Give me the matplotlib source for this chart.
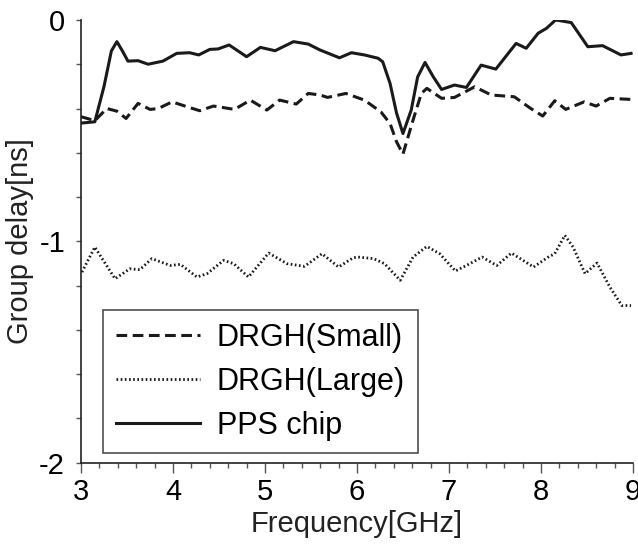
import numpy as np
import matplotlib.pyplot as plt
from matplotlib.ticker import MultipleLocator

plt.rcParams['font.family'] = ['Liberation Sans', 'DejaVu Sans']

# PPS chip (solid)
pps_f = [3.00, 3.15, 3.25, 3.33, 3.39, 3.45, 3.51, 3.62, 3.73, 3.89, 4.04, 4.18, 4.28,
         4.40, 4.49, 4.61, 4.80, 4.95, 5.11, 5.31, 5.47, 5.60, 5.81, 5.94, 6.08, 6.23,
         6.28, 6.36, 6.43, 6.50, 6.59, 6.66, 6.74, 6.83, 6.92, 7.06, 7.19, 7.35, 7.51,
         7.73, 7.84, 7.97, 8.06, 8.16, 8.33, 8.51, 8.67, 8.87, 8.98]
pps_d = [-0.466, -0.46, -0.30, -0.14, -0.098, -0.14, -0.186, -0.184, -0.20, -0.186, -0.151,
         -0.148, -0.158, -0.133, -0.131, -0.113, -0.166, -0.124, -0.139, -0.098, -0.109,
         -0.136, -0.171, -0.148, -0.158, -0.173, -0.189, -0.287, -0.42, -0.513, -0.407,
         -0.257, -0.192, -0.257, -0.314, -0.294, -0.305, -0.204, -0.222, -0.106, -0.128,
         -0.060, -0.038, 0.0, -0.012, -0.121, -0.116, -0.158, -0.151]

# DRGH(Small) (dashed)
small_f = [3.00, 3.15, 3.28, 3.39, 3.49, 3.62, 3.75, 3.84, 3.99, 4.13, 4.29, 4.44, 4.67,
           4.84, 5.02, 5.16, 5.34, 5.47, 5.60, 5.68, 5.88, 6.08, 6.26, 6.36, 6.43, 6.50,
           6.61, 6.70, 6.76, 6.92, 7.06, 7.28, 7.46, 7.71, 7.89, 8.02, 8.15, 8.27, 8.47,
           8.60, 8.75, 8.98]
small_d = [-0.437, -0.455, -0.40, -0.412, -0.445, -0.377, -0.404, -0.40, -0.37, -0.389,
           -0.41, -0.389, -0.404, -0.362, -0.407, -0.362, -0.38, -0.332, -0.339, -0.35,
           -0.332, -0.362, -0.415, -0.468, -0.55, -0.606, -0.452, -0.332, -0.309, -0.354,
           -0.35, -0.302, -0.339, -0.347, -0.40, -0.434, -0.365, -0.404, -0.37, -0.389,
           -0.354, -0.359]

# DRGH(Large) (dotted)
large_f = [3.01, 3.15, 3.37, 3.53, 3.64, 3.77, 3.97, 4.08, 4.26, 4.37, 4.55, 4.66, 4.82,
           5.04, 5.24, 5.43, 5.62, 5.80, 5.96, 6.01, 6.18, 6.30, 6.47, 6.61, 6.76, 6.90,
           7.07, 7.19, 7.36, 7.52, 7.68, 7.92, 8.08, 8.15, 8.26, 8.35, 8.48, 8.61, 8.75,
           8.88, 8.98]
large_d = [-1.139, -1.026, -1.169, -1.124, -1.128, -1.078, -1.109, -1.104, -1.161, -1.146,
           -1.086, -1.101, -1.161, -1.053, -1.101, -1.113, -1.056, -1.116, -1.074, -1.071,
           -1.078, -1.101, -1.176, -1.071, -1.023, -1.056, -1.134, -1.109, -1.071, -1.109,
           -1.053, -1.116, -1.071, -1.056, -0.973, -1.026, -1.146, -1.098, -1.207, -1.29,
           -1.29]

fig = plt.figure(figsize=(6.38, 5.48), dpi=100)
ax = fig.add_axes([0.127, 0.1556, 0.865, 0.808])

ax.plot(small_f, small_d, color='#1a1a1a', lw=2.2, ls=(0, (3.5, 1.8)),
        solid_joinstyle='round', label='DRGH(Small)')
ax.plot(large_f, large_d, color='#1a1a1a', lw=2.0, ls=(0, (0.6, 0.9)), label='DRGH(Large)')
ax.plot(pps_f, pps_d, color='#1a1a1a', lw=2.2, solid_joinstyle='round', label='PPS chip')

ax.set_xlim(3, 9)
ax.set_ylim(-2, 0)
ax.xaxis.set_major_locator(MultipleLocator(1))
ax.xaxis.set_minor_locator(MultipleLocator(0.2))
ax.yaxis.set_minor_locator(MultipleLocator(0.2))
ax.set_yticks([-2, -1, 0])
ax.set_yticklabels(['-2', '-1', '0'])

for s in ['top', 'right']:
    ax.spines[s].set_visible(False)
for s in ['left', 'bottom']:
    ax.spines[s].set_linewidth(1.2)
    ax.spines[s].set_color('#222222')

ax.tick_params(axis='x', which='major', length=7, width=1.0, labelsize=21, pad=4, color='#555555')
ax.tick_params(axis='x', which='minor', length=3.5, width=1.0, color='#555555')
ax.tick_params(axis='y', which='major', length=3.5, width=1.0, labelsize=21, pad=8, color='#555555')
ax.tick_params(axis='y', which='minor', length=3.5, width=1.0, color='#555555')

ax.set_xlabel('Frequency[GHz]', fontsize=21, labelpad=3, color='#222222')
ax.set_ylabel('Group delay[ns]', fontsize=21, labelpad=4, color='#222222')

leg = ax.legend(loc='lower left', bbox_to_anchor=(0.04, 0.021), fontsize=22,
                handlelength=2.75, handletextpad=0.55, labelspacing=0.45,
                borderpad=0.42, frameon=True, fancybox=False, borderaxespad=0)
leg.get_frame().set_edgecolor('#222222')
leg.get_frame().set_linewidth(1.2)

fig.savefig('out.png', dpi=100)
